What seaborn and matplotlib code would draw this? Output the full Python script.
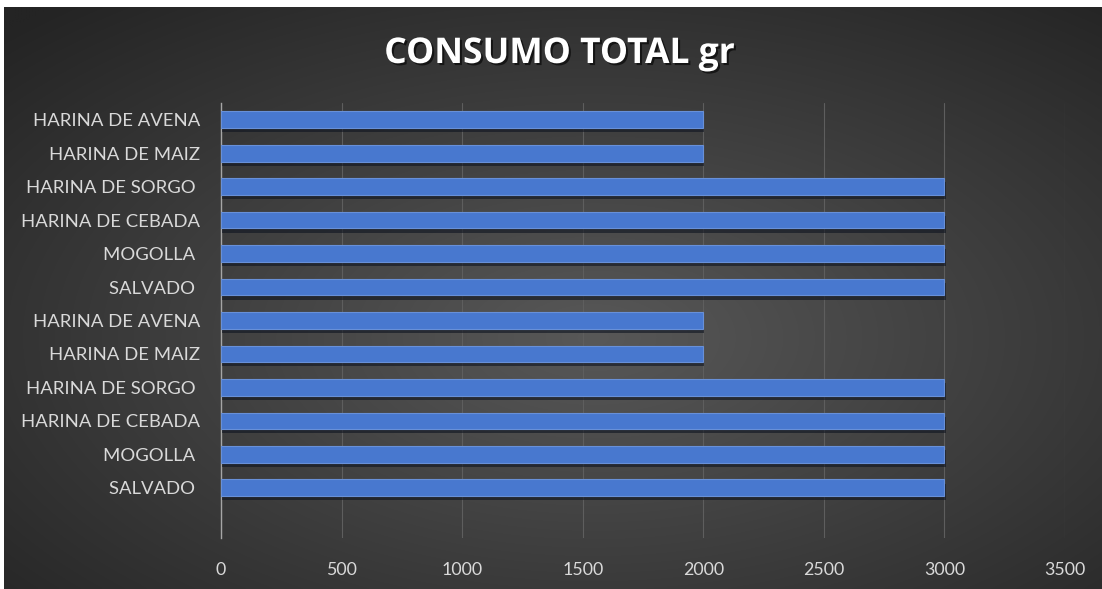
import numpy as np
import pandas as pd
import matplotlib
matplotlib.use("Agg")
import matplotlib.pyplot as plt
import matplotlib.patheffects as pe
import seaborn as sns

labels = ["HARINA DE AVENA", "HARINA DE MAIZ", "HARINA DE SORGO ", "HARINA DE CEBADA",
          "MOGOLLA ", "SALVADO ", "HARINA DE AVENA", "HARINA DE MAIZ", "HARINA DE SORGO ",
          "HARINA DE CEBADA", "MOGOLLA ", "SALVADO "]
values = [2000, 2000, 3000, 3000, 3000, 3000, 2000, 2000, 3000, 3000, 3000, 3000]
xticks = [0, 500, 1000, 1500, 2000, 2500, 3000, 3500]
title = "CONSUMO TOTAL gr"

sns.set_theme(style="dark")
plt.rcParams['font.family'] = ['Lato', 'DejaVu Sans']

W, H = 1102, 589
fig = plt.figure(figsize=(W / 100, H / 100), dpi=100, facecolor="white")

# background radial gradient
bg = fig.add_axes([4 / W, 0, 1 - 4 / W, 1 - 7 / H])
yy, xx = np.mgrid[0:300, 0:560]
cx, cy = 300, 170
r = np.sqrt(((xx - cx) / 560) ** 2 + ((yy - cy) / 300) ** 2)
r = np.clip(r / 0.75, 0, 1)
c0 = np.array([0x58, 0x58, 0x58]) / 255
c1 = np.array([0x24, 0x24, 0x24]) / 255
img = c0[None, None, :] * (1 - r[..., None]) + c1[None, None, :] * r[..., None]
bg.imshow(img, aspect="auto", extent=[0, 1, 0, 1], origin="upper", interpolation="bilinear")
bg.set_xlim(0, 1)
bg.set_ylim(0, 1)
bg.set_axis_off()

ax = fig.add_axes([221 / W, 1 - 538 / H, (1065 - 221) / W, (538 - 103) / H])
ax.patch.set_alpha(0)

df = pd.DataFrame({"pos": [str(i) for i in range(len(labels))], "value": values})
sns.barplot(data=df, x="value", y="pos", orient="h", color="#4878cf", width=0.5,
            saturation=1, ax=ax, zorder=3)
for p in ax.patches:
    p.set_edgecolor("#6890d8")
    p.set_linewidth(0.8)
    p.set_path_effects([pe.SimplePatchShadow(offset=(0.8, -3), shadow_rgbFace="#0e1420", alpha=0.6),
                        pe.Normal()])

ax.set_ylim(len(labels) + 0.5, -0.5)
ax.set_xlim(0, 3500)
ax.set_xticks(xticks)
ax.set_xticklabels([str(t) for t in xticks])
ax.set_yticks(range(len(labels)))
ax.set_yticklabels(labels)
ax.set_xlabel("")
ax.set_ylabel("")
ax.grid(axis="x", color="#5e5e5e", linewidth=0.8, zorder=0)
ax.grid(axis="y", visible=False)
ax.set_axisbelow(True)
for s in ["top", "right", "bottom"]:
    ax.spines[s].set_visible(False)
ax.spines["left"].set_color("#a6a6a6")
ax.spines["left"].set_linewidth(1.0)
ax.tick_params(axis="y", length=0, pad=15, labelsize=13.3, labelcolor="#d9d9d9")
ax.tick_params(axis="x", length=0, pad=17, labelsize=12.8, labelcolor="#d9d9d9")

fig.text(559 / W, 1 - 63 / H, title, ha="center", va="baseline", color="white",
         fontsize=25.5, fontweight="bold", family=["Open Sans", "DejaVu Sans"],
         path_effects=[pe.withSimplePatchShadow(offset=(1.5, -1.5), shadow_rgbFace="black", alpha=0.6)])

fig.savefig("out.png", dpi=100, facecolor="white")
